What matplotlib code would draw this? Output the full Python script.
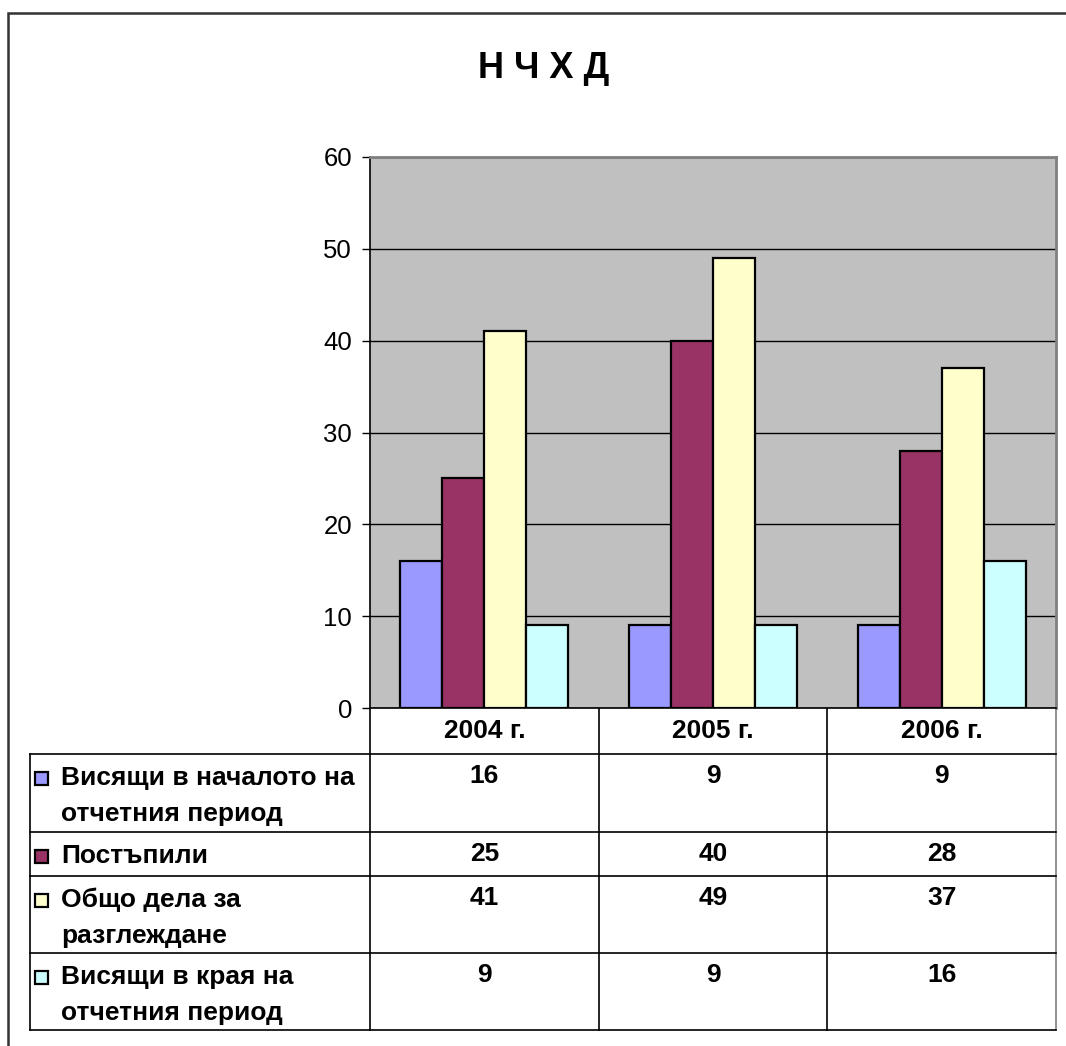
import matplotlib

matplotlib.use("Agg")
import matplotlib.pyplot as plt
import numpy as np
from matplotlib.patches import Rectangle

plt.rcParams["font.family"] = ["Liberation Sans", "DejaVu Sans"]

# data
title = "Н Ч Х Д"
categories = ["2004 г.", "2005 г.", "2006 г."]
series_names = [
    ["Висящи в началото на", "отчетния период"],
    ["Постъпили"],
    ["Общо дела за", "разглеждане"],
    ["Висящи в края на", "отчетния период"],
]
pending_start = [16, 9, 9]
received = [25, 40, 28]
total_cases = [41, 49, 37]
pending_end = [9, 9, 16]
series_values = [pending_start, received, total_cases, pending_end]
colors = ["#9999FF", "#993366", "#FFFFCC", "#CCFFFF"]
yticks = [0, 10, 20, 30, 40, 50, 60]

# layout in pixels of the 1066x1046 canvas
W, H = 1066, 1046
PL, PR, PT, PB = 370, 1056, 157, 708
TAB_LEFT = 30
row_edges = [754, 832, 876, 953, 1030]
TAB_FS = 19

fig = plt.figure(figsize=(W / 100, H / 100), dpi=100, facecolor="white")

# overlay in pixel units for border, title and data table
ov = fig.add_axes([0, 0, 1, 1], zorder=0)
ov.set_xlim(0, W)
ov.set_ylim(H, 0)
ov.axis("off")

ax = fig.add_axes([PL / W, 1 - PB / H, (PR - PL) / W, (PB - PT) / H], zorder=1)
ax.set_facecolor("#C0C0C0")

x = np.arange(len(categories))
n = len(series_values)
bw = 42 / ((PR - PL) / len(categories))
for i, (vals, col) in enumerate(zip(series_values, colors)):
    ax.bar(x + (i - (n - 1) / 2) * bw, vals, width=bw, color=col,
           edgecolor="black", linewidth=1.6, zorder=3)

ax.set_xlim(-0.5, len(categories) - 0.5)
ax.set_ylim(yticks[0], yticks[-1])
ax.set_yticks(yticks)
ax.set_xticks([])
ax.yaxis.grid(True, color="black", linewidth=1, zorder=1)
ax.set_axisbelow(True)
ax.tick_params(axis="y", direction="out", length=6, width=1, pad=7,
               labelsize=18.5, colors="black")
for side in ("top", "right"):
    ax.spines[side].set_color("#808080")
    ax.spines[side].set_linewidth(2)
ax.spines["left"].set_color("black")
ax.spines["left"].set_linewidth(1.2)
ax.spines["bottom"].set_color("black")
ax.spines["bottom"].set_linewidth(1.2)

# outer chart border
ov.plot([8, 8, W + 5], [H + 5, 13, 13], color="#333333", linewidth=1.8,
        solid_joinstyle="miter")

ov.text(544, 68, title, ha="center", va="center", fontsize=26,
        fontweight="bold")

# data table
col_w = (PR - PL) / len(categories)
col_edges = [PL + k * col_w for k in range(len(categories) + 1)]
for k, cx in enumerate(col_edges):
    lc = "#808080" if k == len(categories) else "black"
    ov.plot([cx, cx], [PB, row_edges[-1]], color=lc, linewidth=1.2)
ov.plot([TAB_LEFT, TAB_LEFT], [row_edges[0], row_edges[-1]], color="black",
        linewidth=1.2)
for ry in row_edges:
    ov.plot([TAB_LEFT, PR], [ry, ry], color="black", linewidth=1.2)

for k, cat in enumerate(categories):
    ov.text((col_edges[k] + col_edges[k + 1]) / 2, 731, cat, ha="center",
            va="center", fontsize=TAB_FS, fontweight="bold")

line_gap = 36
for r, (names, vals, col) in enumerate(zip(series_names, series_values, colors)):
    y0 = row_edges[r] + 24
    ov.add_patch(Rectangle((35, y0 - 6.5), 12.5, 13, facecolor=col,
                           edgecolor="black", linewidth=1.6))
    for j, line in enumerate(names):
        ov.text(61, y0 + j * line_gap, line, ha="left", va="center",
                fontsize=TAB_FS, fontweight="bold")
    for k, v in enumerate(vals):
        ov.text((col_edges[k] + col_edges[k + 1]) / 2, y0 - 2, str(v),
                ha="center", va="center", fontsize=TAB_FS, fontweight="bold")

fig.savefig("out.png", dpi=100, facecolor="white")
